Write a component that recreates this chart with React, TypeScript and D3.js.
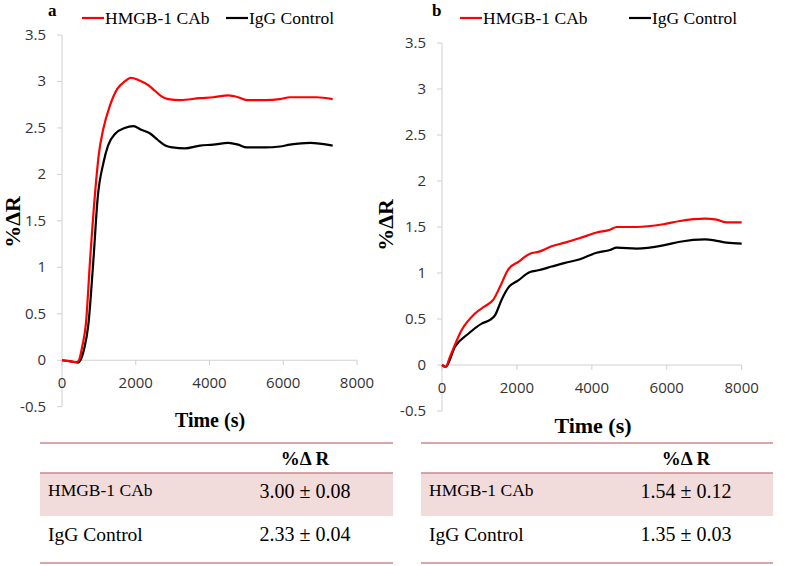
import React from "react";
import * as d3 from "d3";

// ---------- data ----------
const xTicks = [0, 2000, 4000, 6000, 8000];
const yTicks = [-0.5, 0, 0.5, 1, 1.5, 2, 2.5, 3, 3.5];
const seriesNames = ["HMGB-1 CAb", "IgG Control"];

const aRedT = [0, 200, 400, 460, 550, 650, 760, 895, 1000, 1115, 1300, 1500, 1700, 1870, 2100, 2340, 2520, 2700, 2880, 3200, 3740, 4100, 4510, 4780, 5010, 5500, 5910, 6180, 6900, 7340];
const aRedV = [0, -0.01, -0.02, 0.0, 0.15, 0.4, 1.07, 1.79, 2.22, 2.48, 2.74, 2.92, 3.0, 3.04, 3.01, 2.96, 2.9, 2.84, 2.81, 2.8, 2.82, 2.83, 2.85, 2.83, 2.8, 2.8, 2.81, 2.83, 2.83, 2.81];
const aBlkT = [0, 200, 440, 500, 600, 714, 850, 968, 1121, 1248, 1450, 1700, 1935, 2150, 2390, 2600, 2800, 3000, 3336, 3743, 4100, 4510, 4780, 5010, 5500, 5910, 6180, 6730, 7340];
const aBlkV = [0, -0.01, -0.025, 0.0, 0.12, 0.38, 1.07, 1.75, 2.12, 2.31, 2.44, 2.5, 2.52, 2.48, 2.44, 2.37, 2.31, 2.29, 2.28, 2.31, 2.32, 2.34, 2.32, 2.29, 2.29, 2.3, 2.32, 2.34, 2.31];

const bRedT = [0, 98, 213, 525, 881, 1148, 1370, 1548, 1770, 2037, 2349, 2571, 2927, 3283, 3683, 4128, 4484, 4662, 5196, 5906, 6352, 7019, 7331, 7598, 8000];
const bRedV = [0, -0.02, 0.09, 0.38, 0.56, 0.64, 0.71, 0.85, 1.04, 1.12, 1.21, 1.23, 1.29, 1.33, 1.38, 1.44, 1.47, 1.5, 1.5, 1.53, 1.565, 1.59, 1.58, 1.55, 1.55];
const bBlkT = [0, 98, 347, 703, 1059, 1281, 1414, 1592, 1770, 2037, 2349, 2571, 2927, 3283, 3683, 4128, 4484, 4662, 5196, 5906, 6352, 7019, 7331, 7598, 8000];
const bBlkV = [0, -0.02, 0.2, 0.34, 0.45, 0.49, 0.54, 0.71, 0.84, 0.92, 1.01, 1.03, 1.07, 1.11, 1.15, 1.22, 1.25, 1.275, 1.265, 1.3, 1.34, 1.365, 1.35, 1.33, 1.32];

const tableHeader = "%\u0394 R";
const tableARows = ["HMGB-1 CAb", "IgG Control"];
const tableAValues = ["3.00 \u00b1 0.08", "2.33 \u00b1 0.04"];
const tableBValues = ["1.54 \u00b1 0.12", "1.35 \u00b1 0.03"];

// ---------- components ----------
const SERIF = "'Liberation Serif', 'Times New Roman', serif";
const SANS = "'Open Sans', 'Liberation Sans', sans-serif";
const TABLE_LINE = "#c98a89";

function zip(t: number[], v: number[]) {
  return t.map((x, i) => [x, v[i]] as [number, number]);
}

type PanelProps = {
  letter: string;
  x0: number; x1: number; yTop: number; yBot: number;
  red: [number, number][]; blk: [number, number][];
  letterX: number; leg1X: number; leg2X: number;
  yLabX: number; yLabY: number;
  timeX: number; timeY: number; timeSize: number;
  xLabDy: number;
};

function Panel(p: PanelProps) {
  const x = d3.scaleLinear().domain([0, 8000]).range([p.x0, p.x1]);
  const y = d3.scaleLinear().domain([-0.5, 3.5]).range([p.yBot, p.yTop]);
  const line = d3.line<[number, number]>().x(d => x(d[0])).y(d => y(d[1])).curve(d3.curveMonotoneX);
  const axisCol = "#d0d0d0";
  return (
    <g>
      <text x={p.letterX} y={16} fontFamily={SERIF} fontWeight="bold" fontSize={17}>{p.letter}</text>
      <line x1={p.leg1X} x2={p.leg1X + 22} y1={18} y2={18} stroke="#ff0000" strokeWidth={2.2} />
      <text x={p.leg1X + 23} y={24} fontFamily={SERIF} fontSize={17.5}>{seriesNames[0]}</text>
      <line x1={p.leg2X} x2={p.leg2X + 22} y1={18} y2={18} stroke="#000" strokeWidth={2.2} />
      <text x={p.leg2X + 23} y={24} fontFamily={SERIF} fontSize={17.5}>{seriesNames[1]}</text>
      {/* y axis */}
      <line x1={p.x0} x2={p.x0} y1={y(3.5)} y2={y(-0.5)} stroke={axisCol} />
      {yTicks.map(t => (
        <g key={t}>
          <line x1={p.x0 - 5} x2={p.x0} y1={y(t)} y2={y(t)} stroke={axisCol} />
          <text x={p.x0 - 16} y={y(t) + 5} textAnchor="end" fontFamily={SANS} fontSize={15} fill="#333">{t}</text>
        </g>
      ))}
      {/* x axis */}
      <line x1={p.x0} x2={p.x1} y1={y(0)} y2={y(0)} stroke={axisCol} />
      {xTicks.map(t => (
        <g key={t}>
          <line x1={x(t)} x2={x(t)} y1={y(0)} y2={y(0) + 5} stroke={axisCol} />
          <text x={x(t)} y={y(0) + p.xLabDy} textAnchor="middle" fontFamily={SANS} fontSize={15} fill="#333">{t}</text>
        </g>
      ))}
      <text transform={`translate(${p.yLabX},${p.yLabY}) rotate(-90)`} textAnchor="middle" fontFamily={SERIF} fontWeight="bold" fontSize={22}>%ΔR</text>
      <text x={p.timeX} y={p.timeY} textAnchor="middle" fontFamily={SERIF} fontWeight="bold" fontSize={p.timeSize}>Time (s)</text>
      <path d={line(p.blk) || ""} fill="none" stroke="#000" strokeWidth={2.2} />
      <path d={line(p.red) || ""} fill="none" stroke="#ff0000" strokeWidth={2.2} />
    </g>
  );
}

type TableProps = { x0: number; x1: number; labelX: number; valX: number; values: string[] };

function Table(p: TableProps) {
  return (
    <g>
      <rect x={p.x0} y={473} width={p.x1 - p.x0} height={43} fill="#f2dcdb" />
      <line x1={p.x0} x2={p.x1} y1={443} y2={443} stroke={TABLE_LINE} strokeWidth={1.5} />
      <line x1={p.x0} x2={p.x1} y1={473} y2={473} stroke={TABLE_LINE} strokeWidth={1.5} />
      <line x1={p.x0} x2={p.x1} y1={563} y2={563} stroke={TABLE_LINE} strokeWidth={1.5} />
      <text x={p.valX} y={465} textAnchor="middle" fontFamily={SERIF} fontWeight="bold" fontSize={19}>{tableHeader}</text>
      <text x={p.labelX} y={496} fontFamily={SERIF} fontSize={17.5}>{tableARows[0]}</text>
      <text x={p.valX} y={498} textAnchor="middle" fontFamily={SERIF} fontSize={20}>{p.values[0]}</text>
      <text x={p.labelX} y={541} fontFamily={SERIF} fontSize={19.5}>{tableARows[1]}</text>
      <text x={p.valX} y={541} textAnchor="middle" fontFamily={SERIF} fontSize={20}>{p.values[1]}</text>
    </g>
  );
}

export default function App() {
  return (
    <svg width={787} height={566} style={{ position: "absolute", left: 0, top: 0, background: "#fff" }}>
      <rect width={787} height={566} fill="#fff" />
      <Panel letter="a" x0={62} x1={357} yTop={35} yBot={406.7}
        red={zip(aRedT, aRedV)} blk={zip(aBlkT, aBlkV)}
        letterX={48} leg1X={82} leg2X={226} yLabX={20} yLabY={222}
        timeX={210} timeY={427} timeSize={20} xLabDy={28} />
      <Panel letter="b" x0={442} x1={741.7} yTop={43} yBot={411}
        red={zip(bRedT, bRedV)} blk={zip(bBlkT, bBlkV)}
        letterX={432} leg1X={460} leg2X={629} yLabX={393} yLabY={225}
        timeX={593} timeY={433} timeSize={22} xLabDy={28} />
      <Table x0={40} x1={393} labelX={48} valX={305} values={tableAValues} />
      <Table x0={421} x1={773} labelX={429} valX={686} values={tableBValues} />
    </svg>
  );
}
